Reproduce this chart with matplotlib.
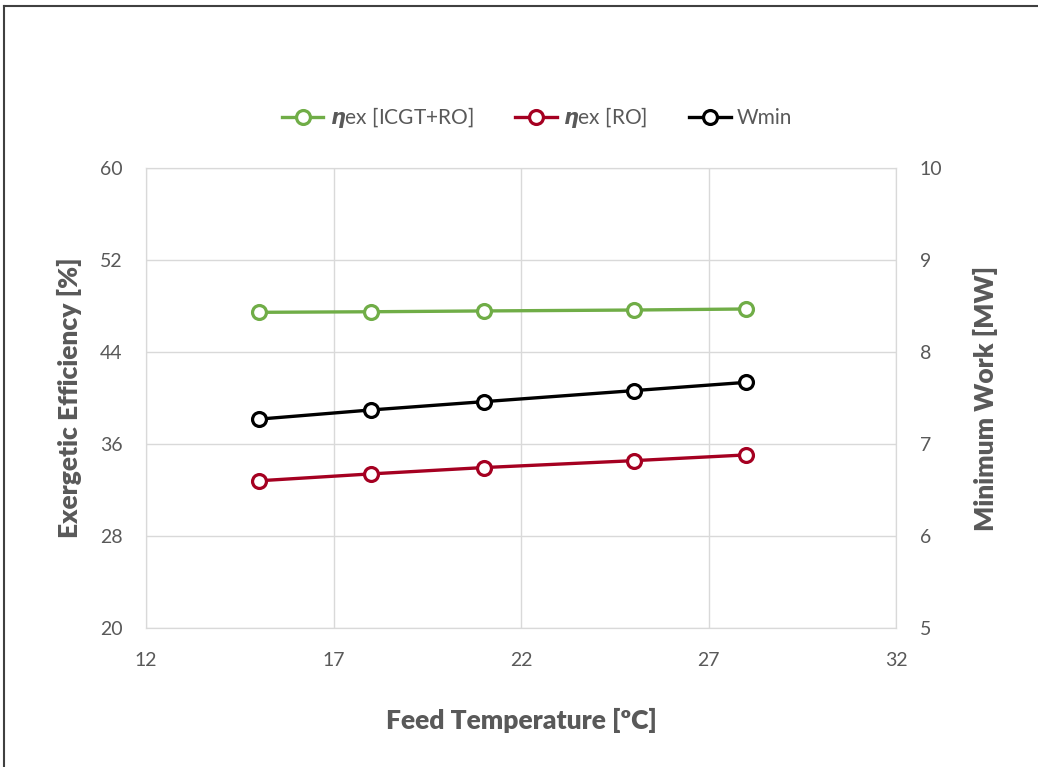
import matplotlib
matplotlib.use('Agg')
import matplotlib.pyplot as plt
from matplotlib.lines import Line2D

plt.rcParams['font.family'] = ['Lato', 'DejaVu Sans']
plt.rcParams['mathtext.fontset'] = 'dejavusans'

# data
feed_temp = [15, 18, 21, 25, 28]
eta_icgt_ro = [47.45, 47.5, 47.57, 47.65, 47.74]
eta_ro = [32.8, 33.4, 33.95, 34.55, 35.05]
w_min = [7.27, 7.37, 7.46, 7.58, 7.67]

green = '#70AD47'
red = '#A50021'
grey_text = '#595959'
grid_col = '#D9D9D9'

fig = plt.figure(figsize=(10.38, 7.67), dpi=100)
ax = fig.add_axes((146/1038, 139/767, 750/1038, 460/767))
ax2 = ax.twinx()

mk = dict(marker='o', markersize=10, markerfacecolor='white', markeredgewidth=2.3, linewidth=2.4)
ax.plot(feed_temp, eta_icgt_ro, color=green, **mk, zorder=3)
ax.plot(feed_temp, eta_ro, color=red, **mk, zorder=3)
ax2.plot(feed_temp, w_min, color='black', **mk, zorder=3)

ax.set_xlim(12, 32)
ax.set_ylim(20, 60)
ax2.set_ylim(5, 10)
ax.set_xticks([12, 17, 22, 27, 32])
ax.set_yticks([20, 28, 36, 44, 52, 60])
ax2.set_yticks([5, 6, 7, 8, 9, 10])

ax.grid(True, color=grid_col, linewidth=1)
ax.set_axisbelow(True)
for a in (ax, ax2):
    for s in a.spines.values():
        s.set_color(grid_col)
    a.tick_params(length=0, labelsize=14, labelcolor=grey_text)
ax.tick_params(axis='y', pad=17)
ax.tick_params(axis='x', pad=17)
ax2.tick_params(axis='y', pad=17)

ax.set_xlabel('Feed Temperature [ºC]', fontsize=19, fontweight='heavy', color=grey_text, labelpad=28)
ax.set_ylabel('Exergetic Efficiency [%]', fontsize=19, fontweight='heavy', color=grey_text, labelpad=13)
ax2.set_ylabel('Minimum Work [MW]', fontsize=19, fontweight='heavy', color=grey_text, labelpad=22)

handles = [Line2D([], [], color=green, **mk),
           Line2D([], [], color=red, **mk),
           Line2D([], [], color='black', **mk)]
labels = [r'$\boldsymbol{\eta}$ex [ICGT+RO]', r'$\boldsymbol{\eta}$ex [RO]', 'Wmin']
leg = fig.legend(handles, labels, loc='center', bbox_to_anchor=(537/1038, 1 - 118/767),
                 ncol=3, frameon=False, fontsize=15, handlelength=2.0, columnspacing=2.0,
                 handletextpad=0.3)
for t in leg.get_texts():
    t.set_color(grey_text)

# outer frame of the chart object
fig.add_artist(Line2D([4/1038, 4/1038], [0, 1 - 6/767], color='#404040', linewidth=1.5))
fig.add_artist(Line2D([4/1038, 1], [1 - 6/767, 1 - 6/767], color='#404040', linewidth=1.5))

fig.savefig('out.png', dpi=100)
